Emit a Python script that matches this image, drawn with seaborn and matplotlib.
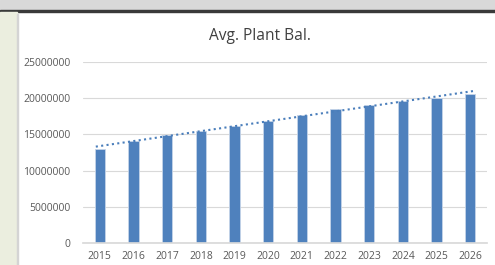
import numpy as np
import pandas as pd
import seaborn as sns
import matplotlib.pyplot as plt
from matplotlib.patches import Rectangle

# data
years = [2015, 2016, 2017, 2018, 2019, 2020, 2021, 2022, 2023, 2024, 2025, 2026]
balance = [13000000, 14050000, 14900000, 15450000, 16150000, 16900000,
           17700000, 18500000, 19050000, 19600000, 20050000, 20550000]
y_ticks = [0, 5000000, 10000000, 15000000, 20000000, 25000000]

df = pd.DataFrame({'year': [str(y) for y in years], 'balance': balance})

sns.set_theme(style='white')
plt.rcParams['font.family'] = ['Open Sans', 'DejaVu Sans']

fig = plt.figure(figsize=(4.95, 2.65), dpi=100)

# window chrome around the chart (spreadsheet look)
fig.patches.append(Rectangle((0, 1 - 10 / 265), 1, 10 / 265, transform=fig.transFigure,
                             color='#d9d9d9', zorder=-2))
fig.patches.append(Rectangle((0, 1 - 12 / 265), 1, 2 / 265, transform=fig.transFigure,
                             color='#3a3a3a', zorder=-1))
fig.patches.append(Rectangle((0, 0), 17 / 495, 1 - 12 / 265, transform=fig.transFigure,
                             color='#ebeedf', zorder=-1))
fig.patches.append(Rectangle((17 / 495, 0), 1 / 495, 1 - 14 / 265, transform=fig.transFigure,
                             color='#d4d4d4', zorder=-1))

ax = fig.add_axes([83 / 495, 22 / 265, 404 / 495, 181 / 265])
sns.barplot(data=df, x='year', y='balance', color='#4f81bd', width=0.31,
            saturation=1, edgecolor='#c5d4e8', linewidth=0.6, ax=ax)

# linear trendline
xi = np.arange(len(years))
slope, intercept = np.polyfit(xi, balance, 1)
ax.plot([xi[0] - 0.12, xi[-1] + 0.12],
        [intercept + slope * (xi[0] - 0.12), intercept + slope * (xi[-1] + 0.12)],
        linestyle=(0, (1, 1.6)), color='#4a7ebb', linewidth=1.5, zorder=5)

ax.set_ylim(0, 25000000)
ax.set_xlim(-0.5, len(years) - 0.5)
ax.set_yticks(y_ticks)
ax.set_yticklabels([str(t) for t in y_ticks])
ax.yaxis.grid(True, color='#d9d9d9', linewidth=0.8)
ax.set_axisbelow(True)
for s in ['top', 'right', 'left']:
    ax.spines[s].set_visible(False)
ax.spines['bottom'].set_color('#d9d9d9')
ax.tick_params(axis='both', length=0, labelsize=7.5, labelcolor='#595959')
ax.tick_params(axis='y', pad=9)
ax.tick_params(axis='x', pad=6)
ax.set_xlabel('')
ax.set_ylabel('')

fig.text(0.525, 1 - 36 / 265, 'Avg. Plant Bal.', ha='center', va='center',
         fontsize=11.2, color='#404040')

fig.savefig('out.png', dpi=100)
